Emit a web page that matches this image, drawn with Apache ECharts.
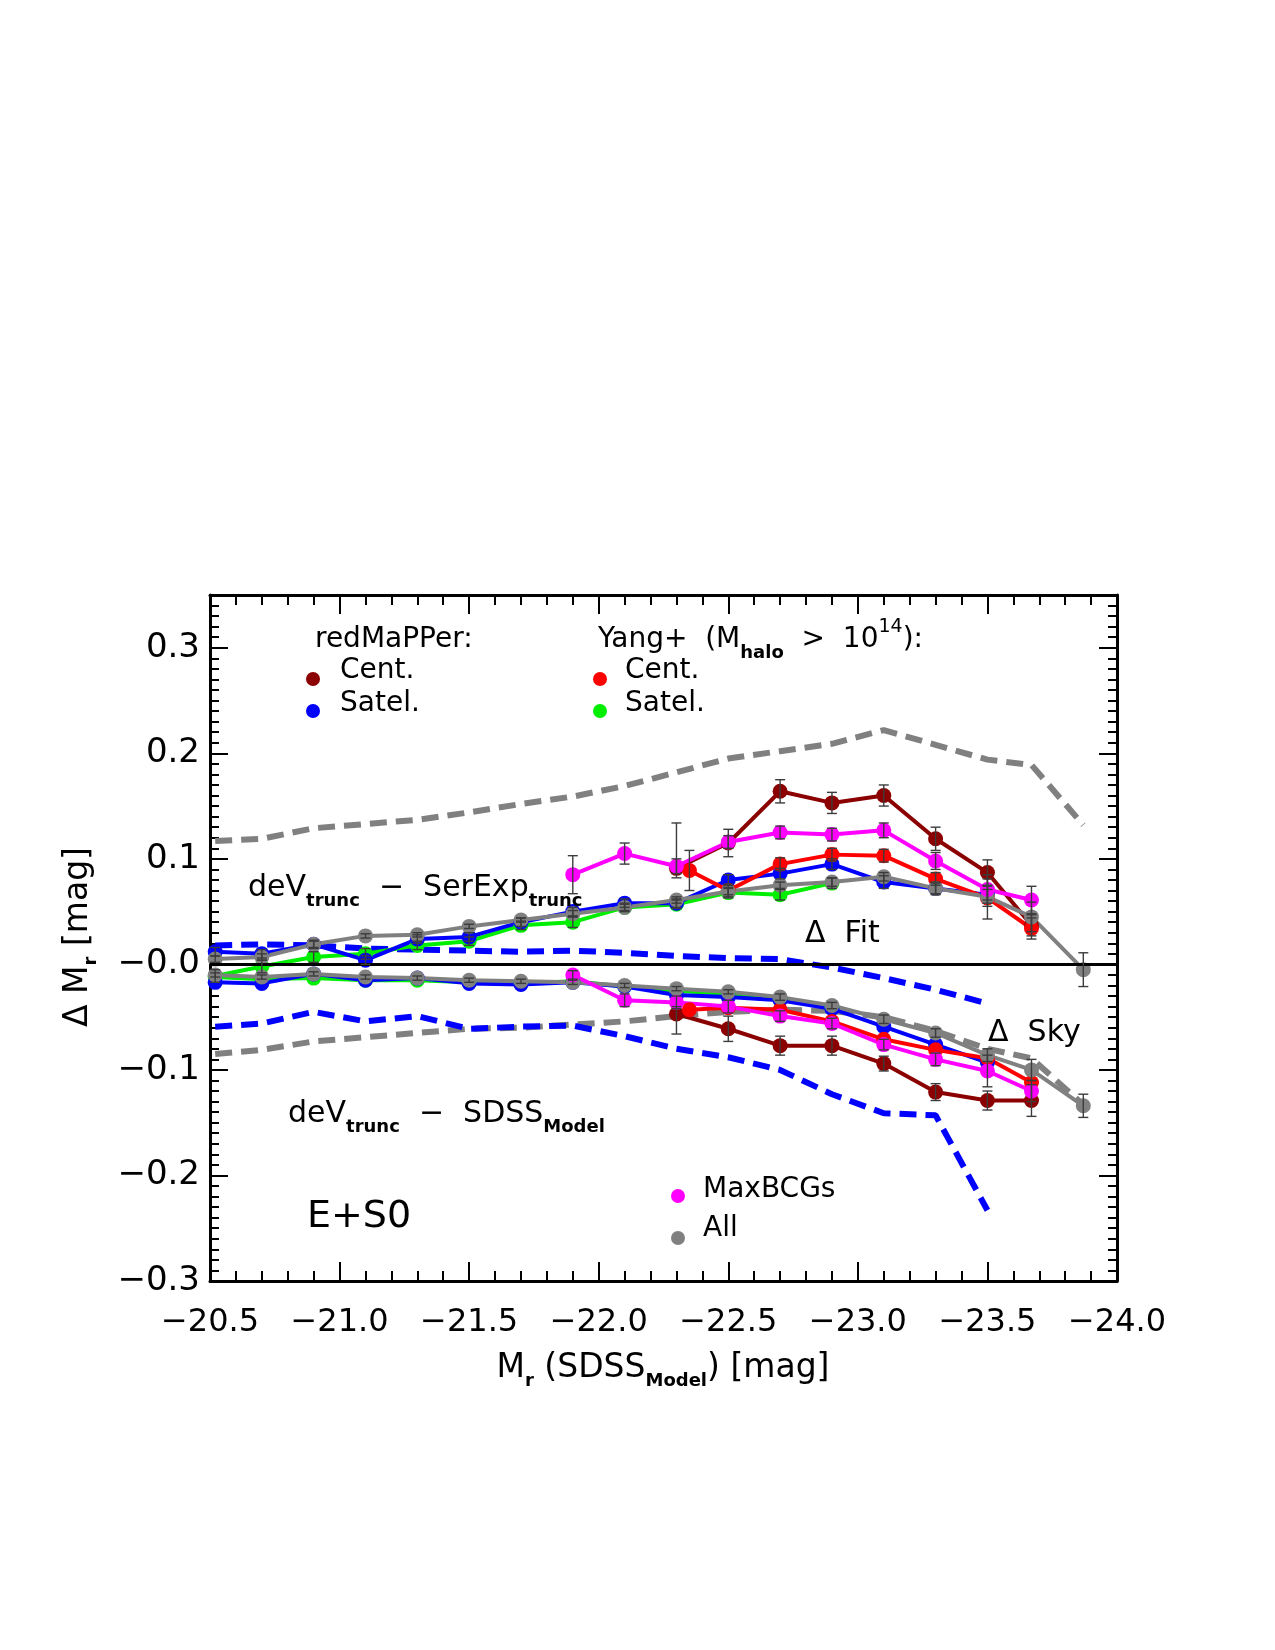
<!DOCTYPE html>
<html>
<head>
<meta charset="utf-8">
<script src="https://cdn.jsdelivr.net/npm/echarts@6/dist/echarts.min.js"></script>
<style>
  html, body { margin: 0; padding: 0; background: #fff; }
  #chart { width: 1275px; height: 1650px; }
</style>
</head>
<body>
<div id="chart"></div>
<script>
// magnitude bins (x)
const xAll = [-20.52, -20.7, -20.9, -21.1, -21.3, -21.5, -21.7, -21.9, -22.1, -22.3, -22.5, -22.7, -22.9, -23.1, -23.3, -23.5, -23.67, -23.87];
const xSatR = xAll.slice(0, 16);          // redMaPPer satellites
const xSatY = xAll.slice(0, 13);          // Yang satellites
const xCentR = [-22.3, -22.5, -22.7, -22.9, -23.1, -23.3, -23.5, -23.67];
const xCentY = [-22.35, -22.5, -22.7, -22.9, -23.1, -23.3, -23.5, -23.67];
const xMax = [-21.9, -22.1, -22.3, -22.5, -22.7, -22.9, -23.1, -23.3, -23.5, -23.67];
const xBlueDash = xAll.slice(0, 16);

// deV_trunc - SerExp_trunc (upper group)
const allFit = [0.005, 0.007, 0.019, 0.027, 0.028, 0.036, 0.042, 0.048, 0.054, 0.061, 0.069, 0.075, 0.078, 0.083, 0.072, 0.064, 0.045, -0.005];
const allFitErr = [0.003, 0.003, 0.003, 0.002, 0.002, 0.002, 0.002, 0.003, 0.003, 0.003, 0.003, 0.003, 0.004, 0.004, 0.005, 0.021, 0.014, 0.016];
const satRFit = [0.012, 0.010, 0.019, 0.004, 0.024, 0.026, 0.040, 0.050, 0.058, 0.058, 0.080, 0.086, 0.095, 0.078, 0.072, 0.066];
const satRFitErr = [0.004, 0.004, 0.004, 0.004, 0.004, 0.004, 0.004, 0.004, 0.004, 0.004, 0.005, 0.005, 0.005, 0.006, 0.006, 0.008];
const satYFit = [-0.011, -0.002, 0.007, 0.010, 0.018, 0.022, 0.037, 0.040, 0.054, 0.057, 0.068, 0.066, 0.077];
const satYFitErr = [0.006, 0.006, 0.005, 0.005, 0.004, 0.004, 0.004, 0.005, 0.004, 0.004, 0.005, 0.005, 0.005];
const centRFit = [0.091, 0.115, 0.164, 0.153, 0.160, 0.119, 0.087, 0.037];
const centRFitErr = [[0.009, 0.043], 0.013, 0.011, 0.010, 0.010, 0.011, 0.012, 0.010];
const centYFit = [0.089, 0.070, 0.095, 0.104, 0.103, 0.081, 0.063, 0.034];
const centYFitErr = [0.019, 0.006, 0.006, 0.006, 0.006, 0.006, 0.008, 0.010];
const maxFit = [0.085, 0.105, 0.093, 0.116, 0.125, 0.123, 0.127, 0.098, 0.071, 0.061];
const maxFitErr = [0.018, 0.010, 0.007, 0.006, 0.006, 0.006, 0.007, 0.008, 0.010, 0.013];

// deV_trunc - SDSS_Model (lower group)
const allSky = [-0.010, -0.012, -0.009, -0.012, -0.013, -0.015, -0.016, -0.017, -0.020, -0.023, -0.026, -0.031, -0.039, -0.052, -0.065, -0.086, -0.100, -0.134];
const allSkyErr = [0.002, 0.002, 0.002, 0.002, 0.002, 0.002, 0.002, 0.002, 0.002, 0.002, 0.002, 0.003, 0.003, 0.004, 0.004, 0.006, 0.010, 0.011];
const satRSky = [-0.017, -0.018, -0.009, -0.015, -0.013, -0.018, -0.019, -0.017, -0.021, -0.029, -0.031, -0.034, -0.042, -0.059, -0.076, -0.093];
const satYSky = [-0.012, -0.014, -0.013, -0.015, -0.015, -0.017, -0.018, -0.016, -0.021, -0.025, -0.028, -0.033, -0.041];
const centRSky = [-0.047, -0.061, -0.077, -0.077, -0.094, -0.121, -0.129, -0.129];
const centRSkyErr = [[0.019, 0.007], 0.012, 0.009, 0.009, 0.007, 0.008, 0.009, 0.015];
const centYSky = [-0.043, -0.041, -0.043, -0.054, -0.071, -0.081, -0.089, -0.112];
const maxSky = [-0.010, -0.034, -0.036, -0.040, -0.049, -0.056, -0.076, -0.090, -0.101, -0.120];
const maxSkyErr = [0.004, 0.006, 0.006, 0.006, 0.005, 0.005, 0.005, 0.006, 0.015, 0.010];

// dashed reference curves
const grayDashFit = [0.117, 0.119, 0.129, 0.133, 0.137, 0.144, 0.152, 0.159, 0.169, 0.182, 0.195, 0.202, 0.209, 0.222, 0.208, 0.194, 0.189, 0.132];
const blueDashFit = [0.018, 0.019, 0.018, 0.015, 0.014, 0.013, 0.012, 0.013, 0.011, 0.008, 0.006, 0.005, -0.003, -0.013, -0.024, -0.037];
const grayDashSky = [-0.085, -0.081, -0.073, -0.069, -0.065, -0.061, -0.060, -0.057, -0.054, -0.049, -0.045, -0.043, -0.044, -0.050, -0.063, -0.080, -0.089, -0.133];
const blueDashSky = [-0.059, -0.056, -0.045, -0.054, -0.049, -0.061, -0.059, -0.058, -0.068, -0.080, -0.088, -0.100, -0.123, -0.141, -0.143, -0.233];

const C_DRED = '#8b0000', C_RED = '#ff0000', C_BLUE = '#0000ff', C_GREEN = '#00ee00',
      C_MAG = '#ff00ff', C_GRAY = '#808080';
const FONT = 'DejaVu Sans';

function pts(xs, ys) { return ys.map((y, i) => [xs[i], y]); }

function errs(xs, ys, es) {
  return ys.map((y, i) => {
    const e = es[i];
    const dn = Array.isArray(e) ? e[0] : e;
    const up = Array.isArray(e) ? e[1] : e;
    return [xs[i], y - dn, y + up];
  });
}

function lineSeries(xs, ys, color) {
  return {
    type: 'line', data: pts(xs, ys), symbol: 'circle', symbolSize: 15,
    lineStyle: { color: color, width: 4 }, itemStyle: { color: color },
    emphasis: { disabled: true }, animation: false
  };
}

function dashSeries(xs, ys, color) {
  return {
    type: 'line', data: pts(xs, ys), symbol: 'none',
    lineStyle: { color: color, width: 6, type: [17, 9] },
    emphasis: { disabled: true }, animation: false
  };
}

function errSeries(data) {
  return {
    type: 'custom', data: data, z: 5, animation: false,
    encode: { x: 0, y: [1, 2] },
    renderItem: function (params, api) {
      const x = api.value(0);
      const lo = api.coord([x, api.value(1)]);
      const hi = api.coord([x, api.value(2)]);
      const w = 5;
      const st = { stroke: '#3c3c3c', lineWidth: 1.4 };
      return {
        type: 'group', children: [
          { type: 'line', shape: { x1: lo[0], y1: lo[1], x2: hi[0], y2: hi[1] }, style: st },
          { type: 'line', shape: { x1: lo[0] - w, y1: lo[1], x2: lo[0] + w, y2: lo[1] }, style: st },
          { type: 'line', shape: { x1: hi[0] - w, y1: hi[1], x2: hi[0] + w, y2: hi[1] }, style: st }
        ]
      };
    }
  };
}

const fmtX = v => (v < 0 ? '\u2212' : '') + Math.abs(v).toFixed(1);
const fmtY = v => (v < 0.0001 ? '\u2212' : '') + Math.abs(v).toFixed(1);

function xAx(pos) {
  return {
    type: 'value', position: pos, min: -24, max: -20.5, interval: 0.5, inverse: true,
    axisLine: { onZero: false, lineStyle: { color: '#000', width: 3 } },
    axisTick: { inside: true, length: 19, lineStyle: { color: '#000', width: 2 } },
    minorTick: { show: true, splitNumber: 5, length: 10, lineStyle: { color: '#000', width: 2 } },
    axisLabel: { show: pos === 'bottom', formatter: fmtX, margin: 26, fontSize: 32, fontFamily: FONT, color: '#000' },
    splitLine: { show: false }
  };
}

function yAx(pos, major) {
  return {
    type: 'value', position: pos, min: -0.3, max: 0.35, interval: major ? 0.1 : 0.01,
    axisLine: { show: major, onZero: false, lineStyle: { color: '#000', width: 3 } },
    axisTick: { inside: true, length: major ? 18 : 9, lineStyle: { color: '#000', width: 2 } },
    axisLabel: { show: major && pos === 'left', formatter: fmtY, margin: 10, fontSize: 34,
                 fontFamily: FONT, color: '#000', showMaxLabel: false },
    splitLine: { show: false }
  };
}

const sub = { fontSize: 18, fontWeight: 'bold', fontFamily: FONT, verticalAlign: 'bottom', lineHeight: 20 };
const sup = { fontSize: 19, fontFamily: FONT, verticalAlign: 'top', lineHeight: 20 };
function mainStyle(size) { return { fontSize: size, fontFamily: FONT, verticalAlign: 'middle', lineHeight: 44 }; }

function label(x, y, text, size, extra) {
  return Object.assign({
    type: 'text', x: x, y: y, z: 10,
    style: {
      text: text, fill: '#000', align: 'left', verticalAlign: 'middle',
      font: size + 'px "' + FONT + '"',
      rich: { m: mainStyle(size), s: sub, p: sup }
    }
  }, extra || {});
}

function dot(x, y, color) {
  return { type: 'circle', z: 10, shape: { cx: x, cy: y, r: 7 }, style: { fill: color } };
}

const chart = echarts.init(document.getElementById('chart'));
chart.setOption({
  backgroundColor: '#fff',
  animation: false,
  grid: { left: 210, right: 158, top: 595, bottom: 369, containLabel: false },
  xAxis: [xAx('bottom'), xAx('top')],
  yAxis: [yAx('left', true), yAx('left', false), yAx('right', true), yAx('right', false)],
  series: [
    {
      type: 'line', data: [], silent: true,
      markLine: { symbol: 'none', silent: true, label: { show: false }, animation: false,
                  lineStyle: { color: '#000', width: 3, type: 'solid' }, data: [{ yAxis: 0 }] }
    },
    dashSeries(xAll, grayDashFit, C_GRAY),
    dashSeries(xBlueDash, blueDashFit, C_BLUE),
    dashSeries(xAll, grayDashSky, C_GRAY),
    dashSeries(xBlueDash, blueDashSky, C_BLUE),
    lineSeries(xSatY, satYFit, C_GREEN),
    lineSeries(xSatY, satYSky, C_GREEN),
    lineSeries(xSatR, satRFit, C_BLUE),
    lineSeries(xSatR, satRSky, C_BLUE),
    lineSeries(xCentR, centRFit, C_DRED),
    lineSeries(xCentR, centRSky, C_DRED),
    lineSeries(xCentY, centYFit, C_RED),
    lineSeries(xCentY, centYSky, C_RED),
    lineSeries(xAll, allFit, C_GRAY),
    lineSeries(xAll, allSky, C_GRAY),
    lineSeries(xMax, maxFit, C_MAG),
    lineSeries(xMax, maxSky, C_MAG),
    errSeries(errs(xAll, allFit, allFitErr)),
    errSeries(errs(xSatR, satRFit, satRFitErr)),
    errSeries(errs(xSatY, satYFit, satYFitErr)),
    errSeries(errs(xCentR, centRFit, centRFitErr)),
    errSeries(errs(xCentY, centYFit, centYFitErr)),
    errSeries(errs(xMax, maxFit, maxFitErr)),
    errSeries(errs(xAll, allSky, allSkyErr)),
    errSeries(errs(xCentR, centRSky, centRSkyErr)),
    errSeries(errs(xMax, maxSky, maxSkyErr))
  ],
  graphic: [
    label(315, 640, '{m|redMaPPer:}', 28),
    dot(313, 679, C_DRED), label(340, 671, '{m|Cent.}', 28),
    dot(313, 711, C_BLUE), label(340, 704, '{m|Satel.}', 28),
    label(598, 640, '{m|Yang+  (M}{s|halo}{m|  >  10}{p|14}{m|):}', 28),
    dot(600, 679, C_RED), label(625, 671, '{m|Cent.}', 28),
    dot(600, 711, C_GREEN), label(625, 704, '{m|Satel.}', 28),
    label(248, 888, '{m|deV}{s|trunc}{m|  \u2212  SerExp}{s|trunc}', 30),
    label(805, 934, '{m|\u0394  Fit}', 30),
    label(988, 1033, '{m|\u0394  Sky}', 30),
    label(288, 1114, '{m|deV}{s|trunc}{m|  \u2212  SDSS}{s|Model}', 30),
    label(307, 1217, '{m|E+S0}', 38),
    dot(678, 1196, C_MAG), label(703, 1190, '{m|MaxBCGs}', 28),
    dot(678, 1238, C_GRAY), label(703, 1229, '{m|All}', 28),
    label(663, 1368, '{m|M}{s|r}{m| (SDSS}{s|Model}{m|) [mag]}', 33, {}),
    label(78, 937, '{m|\u0394 M}{s|r}{m| [mag]}', 33, { rotation: Math.PI / 2 })
  ]
});

// center the two axis titles on their anchor points
const opt = chart.getOption();
opt.graphic[0].elements.forEach(el => {
  if (el.style && (el.style.text || '').indexOf('[mag]') >= 0) {
    el.style.align = 'center';
  }
});
chart.setOption({ graphic: opt.graphic[0].elements });
</script>
</body>
</html>
